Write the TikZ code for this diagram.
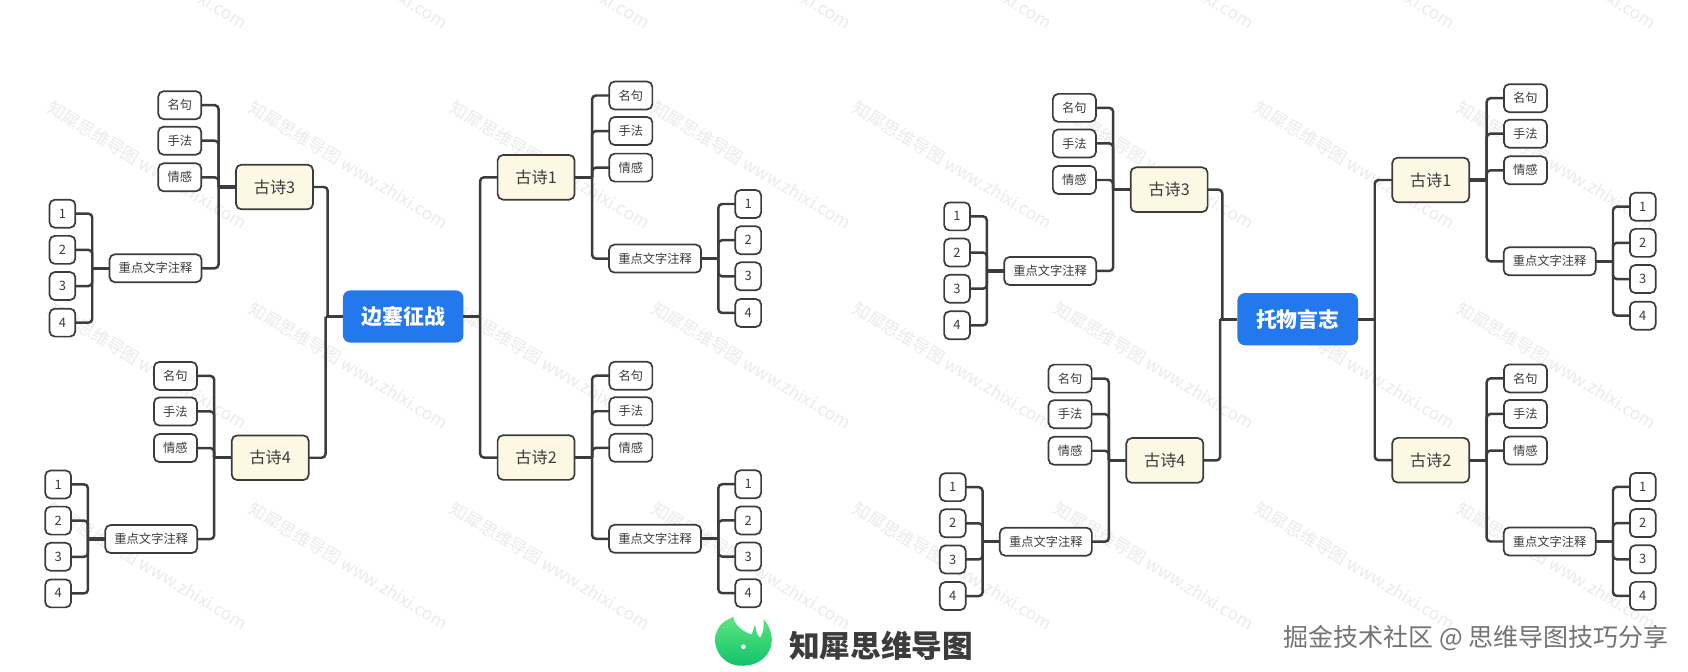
\documentclass[tikz,border=0pt]{standalone}
\usepackage{fontspec}
\setmainfont{Noto Sans CJK SC}
\usetikzlibrary{calc}
\definecolor{ink}{HTML}{3C3C3C}
\definecolor{mainblue}{HTML}{2478EE}
\definecolor{cream}{HTML}{FDF8E3}
\definecolor{wmgray}{HTML}{EBEBEB}
\definecolor{logolight}{HTML}{5FE483}
\definecolor{logodark}{HTML}{12C36A}
\tikzset{
  boxbase/.style={draw=ink,line width=1.6pt,rounded corners=5pt,fill=white,inner sep=0pt,outer sep=0pt,text=ink,align=center},
  smallbox/.style={boxbase,minimum width=40pt,minimum height=26pt,font=\fontsize{11.4}{13}\selectfont},
  longbox/.style={boxbase,minimum width=85.5pt,minimum height=26pt,font=\fontsize{11.4}{13}\selectfont},
  numbox/.style={boxbase,minimum width=24pt,minimum height=26pt,font=\fontsize{12}{13}\selectfont},
  topicbox/.style={boxbase,fill=cream,minimum width=71.5pt,minimum height=41.5pt,font=\fontsize{15}{17}\selectfont},
  rootbox/.style={draw=none,fill=mainblue,rounded corners=7pt,minimum width=112pt,minimum height=48.5pt,inner sep=0pt,outer sep=0pt,text=white,font=\fontsize{19.4}{22}\selectfont\bfseries},
  link/.style={draw=ink,line width=2.3pt,rounded corners=3.5pt},
  stub/.style={draw=ink,line width=3pt},
  wmark/.style={text=wmgray,rotate=-31,inner sep=0pt,font=\fontsize{16}{18}\selectfont},
}
% #1 prefix, #2 title, #3 x, #4 y, #5 side (+1 right, -1 left)
\newcommand{\poembranch}[5]{%
  \node[topicbox] (#1) at (#3,#4) {#2};
  \coordinate (#1-sp) at ({#3+52*#5},#4);
  \foreach \tx/\dy/\idx in {名句/-76/a,手法/-43/b,情感/-9/c}{
    \node[smallbox] (#1-\idx) at ({#3+88*#5},{#4+\dy}) {\tx};
    \draw[link] (#1-sp) |- (#1-\idx);
  }
  \node[longbox] (#1-d) at ({#3+110.5*#5},{#4+75.5}) {重点文字注释};
  \draw[link] (#1-sp) |- (#1-d);
  \draw[stub] (#1) -- (#1-sp);
  \coordinate (#1-dsp) at ({#3+169.3*#5},{#4+75.5});
  \foreach \num/\dy in {1/24.8,2/58.4,3/92,4/126}{
    \node[numbox] (#1-n\num) at ({#3+197*#5},{#4+\dy}) {\num};
    \draw[link] (#1-dsp) |- (#1-n\num);
  }
  \draw[stub] (#1-d) -- (#1-dsp);
}
% #1 prefix, #2 root text, #3 dx, #4 dy
\newcommand{\wholemap}[4]{%
  \begin{scope}[shift={(#3,#4)}]
    \node[rootbox] (#1) at (374.5,294) {#2};
    \poembranch{#1-p1}{古诗1}{498}{164.7}{1}
    \poembranch{#1-p2}{古诗2}{498}{425}{1}
    \poembranch{#1-p3}{古诗3}{255}{173.7}{-1}
    \poembranch{#1-p4}{古诗4}{251}{425.2}{-1}
    \coordinate (#1-rs) at (446,294);
    \coordinate (#1-ls) at (304.4,294);
    \coordinate (#1-lt) at (302.4,294);
    \draw[link] (#1-rs) |- (#1-p1);
    \draw[link] (#1-rs) |- (#1-p2);
    \draw[stub] (#1) -- (#1-rs);
    \draw[link] (#1-ls) |- (#1-p3);
    \draw[link] (#1-lt) |- (#1-p4);
    \draw[stub] (#1) -- (#1-lt);
  \end{scope}
}
\begin{document}
\begin{tikzpicture}[x=1pt,y=-1pt]
  \useasboundingbox (0,0) rectangle (1568,624);
  \fill[white] (0,0) rectangle (1568,624);
  % watermark tiles
  \foreach \i in {0,...,7}{
    \foreach \j in {0,...,3}{
      \node[wmark] (wm-\i-\j) at ({137+187*\i},{-32.5+186*\j}) {知犀思维导图 www.zhixi.com};
    }
  }
  \wholemap{ma}{边塞征战}{0}{0}
  \wholemap{mb}{托物言志}{831}{2.5}
  % logo
  \begin{scope}[shift={(650.3,562)},x=0.31pt,y=-0.31pt]
    \shade[top color=logolight,bottom color=logodark]
      (100,35) .. controls (100,55) and (125,80) .. (155,88)
      .. controls (158,80) and (160,68) .. (165,58)
      .. controls (167,70) and (168,90) .. (180,98)
      .. controls (190,85) and (192,60) .. (190,42)
      .. controls (207,60) and (215,85) .. (215,105)
      .. controls (215,150) and (175,182) .. (130,182)
      .. controls (120,182) and (112,182) .. (105,180)
      .. controls (70,172) and (45,140) .. (45,105)
      .. controls (45,85) and (55,62) .. (72,50)
      -- cycle;
    \fill[white] (130,125) circle (7);
  \end{scope}
  \node[inner sep=0pt,text=ink,font=\fontsize{28.5}{30}\selectfont\bfseries] (logotext) at (818.5,600) {知犀思维导图};
  \node[inner sep=0pt,text=black!55,font=\fontsize{23.2}{25}\selectfont] (credit) at (1371,593) {掘金技术社区 @ 思维导图技巧分享};
\end{tikzpicture}
\end{document}
